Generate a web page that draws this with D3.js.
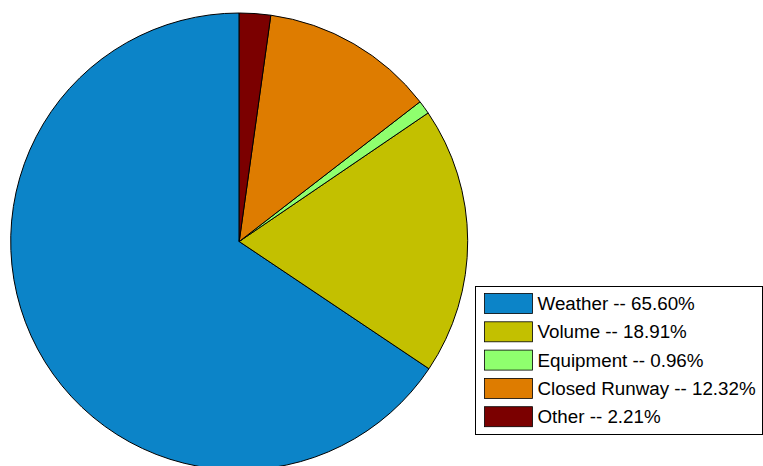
<!DOCTYPE html>
<html>
<head>
<meta charset="utf-8" />
<script src="https://d3js.org/d3.v7.min.js"></script>
<style>
  body { margin: 0; background: #fff; }
  svg { display: block; }
</style>
</head>
<body>
<script>
// slice data (MATLAB-style pie: counter-clockwise from 12 o'clock)
var categories = ['Weather', 'Volume', 'Equipment', 'Closed Runway', 'Other'];
var percents = [65.60, 18.91, 0.96, 12.32, 2.21];
var colors = ['#0c84c8', '#c3c000', '#8fff6e', '#de7c00', '#7b0000'];

var width = 763, height = 466;
var cx = 239.2, cy = 241.5, radius = 228.5;

var svg = d3.select('body').append('svg')
    .attr('width', width)
    .attr('height', height);

var slices = categories.map(function(c, i) {
  return {name: c, value: percents[i], color: colors[i]};
});

var pie = d3.pie()
    .sort(null)
    .value(function(d) { return d.value; })
    .startAngle(0)
    .endAngle(-2 * Math.PI);

var arc = d3.arc()
    .innerRadius(0)
    .outerRadius(radius);

svg.append('g')
    .attr('transform', 'translate(' + cx + ',' + cy + ')')
  .selectAll('path')
    .data(pie(slices))
    .enter()
    .append('path')
    .attr('d', arc)
    .attr('fill', function(d) { return d.data.color; })
    .attr('stroke', '#000')
    .attr('stroke-width', 1)
    .attr('stroke-linejoin', 'round');

// legend
var legend = svg.append('g')
    .attr('transform', 'translate(475.5,286.5)');

legend.append('rect')
    .attr('width', 287)
    .attr('height', 148)
    .attr('fill', '#fff')
    .attr('stroke', '#000')
    .attr('stroke-width', 1);

var rowY = d3.scaleBand()
    .domain(categories)
    .range([5, 5 + 28.3 * 5]);

var rows = legend.selectAll('.row')
    .data(slices)
    .enter()
    .append('g')
    .attr('class', 'row')
    .attr('transform', function(d) { return 'translate(0,' + rowY(d.name) + ')'; });

rows.append('rect')
    .attr('x', 9)
    .attr('y', 2)
    .attr('width', 48)
    .attr('height', 20)
    .attr('fill', function(d) { return d.color; })
    .attr('stroke', '#000')
    .attr('stroke-width', 0.8);

rows.append('text')
    .attr('x', 62)
    .attr('y', 18.5)
    .style('font-family', 'Liberation Sans, Arial, sans-serif')
    .style('font-size', '18.8px')
    .attr('fill', '#000')
    .text(function(d) { return d.name + ' -- ' + d.value.toFixed(2) + '%'; });
</script>
</body>
</html>
